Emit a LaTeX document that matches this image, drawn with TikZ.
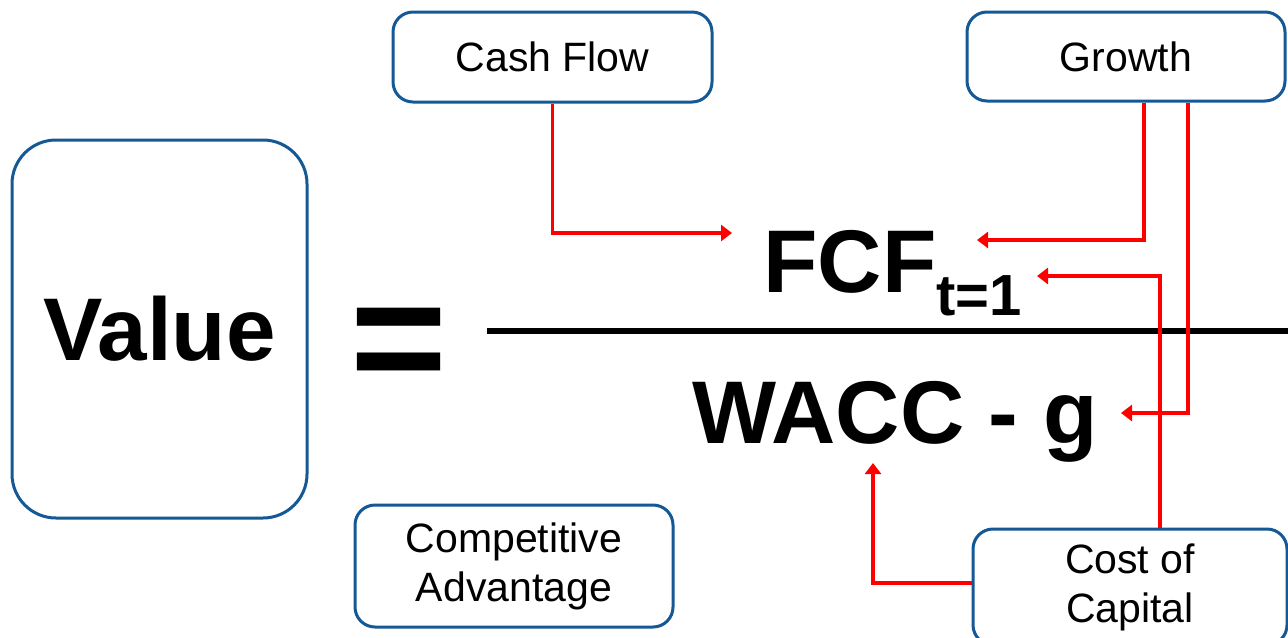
\documentclass[tikz,border=0pt]{standalone}
\usepackage{fontspec}
\setmainfont{Liberation Sans}
\usetikzlibrary{arrows.meta}
\definecolor{boxblue}{RGB}{20,88,150}
\definecolor{linered}{RGB}{255,0,0}
\newcommand{\lblfont}{\fontsize{20.5pt}{24.5pt}\selectfont}
\newcommand{\bigfont}{\bfseries\fontsize{44.5pt}{50pt}\selectfont}
\newcommand{\subsfont}{\bfseries\fontsize{29pt}{32pt}\selectfont}
\newcommand{\eqfont}{\bfseries\fontsize{83pt}{90pt}\selectfont}
\tikzset{
  box/.style={draw=boxblue, line width=1.5pt, rounded corners=10pt, fill=white,
    align=center, inner sep=0pt, font=\lblfont},
  arr/.style={draw=linered, line width=1.6pt, -{Triangle[length=5.5pt,width=8pt]}},
  bigtext/.style={inner sep=0pt, font=\bigfont}
}
\begin{document}
\begin{tikzpicture}[x=0.5pt,y=-0.5pt]
\clip (0,0) rectangle (1288,637);
\fill[white] (0,0) rectangle (1288,637);

\node[box, minimum width=147.5pt, minimum height=189pt, rounded corners=22pt, font=\bigfont] (value) at (159.5,329) {Value};
\node[font=\eqfont, inner sep=0pt] (eq) at (398.5,351) {=};

\coordinate (fl) at (487,331);
\coordinate (fr) at (1292,331);
\draw[line width=3.3pt] (fl) -- (fr);

\node[bigtext, anchor=base west] (fcf) at (763,292) {FCF\raisebox{-11.5pt}{\subsfont t=1}};
\node[bigtext, anchor=base west] (wacc) at (692,443) {WACC - g};

\node[box, minimum width=159.5pt, minimum height=45pt] (cf) at (552.5,57) {Cash Flow};
\node[box, minimum width=159pt, minimum height=44.5pt] (gr) at (1126,56.5) {Growth};
\node[box, minimum width=159pt, minimum height=61pt] (ca) at (514,566) {Competitive\\Advantage};
\node[box, minimum width=157pt, minimum height=58pt] (coc) at (1130,587) {Cost of\\Capital};

\coordinate (t1) at (732,233);
\coordinate (t2) at (977,240);
\coordinate (t3) at (1037,276);
\coordinate (t4) at (1121,413);
\coordinate (t5) at (873,463);

\draw[arr] (cf.south) |- (t1);
\draw[arr] ([xshift=9pt]gr.south) |- (t2);
\draw[arr] ([xshift=31pt]gr.south) |- (t4);
\draw[arr] ([xshift=15pt]coc.north) |- (t3);
\draw[arr] ([yshift=2pt]coc.west) -| (t5);
\end{tikzpicture}
\end{document}
